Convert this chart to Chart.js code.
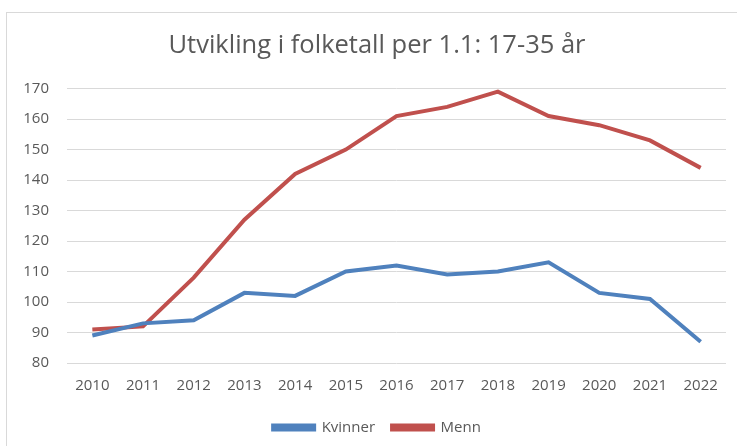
<!DOCTYPE html>
<html>
<head>
<meta charset="utf-8">
<script src="https://cdn.jsdelivr.net/npm/chart.js@4.4.1/dist/chart.umd.min.js"></script>
<style>
    html, body { margin: 0; padding: 0; background: #fff; }
    #wrap { position: relative; width: 737px; height: 446px; overflow: hidden; }
    #frame { position: absolute; left: 6px; top: 12px; width: 740px; height: 440px; border: 1px solid #d9d9d9; }
    /* diagrammet i Excel er bredere enn utsnittet, derfor et litt bredere lerret */
    #folketall { position: absolute; left: 6px; top: 0; }
</style>
</head>
<body>
<div id="wrap">
    <div id="frame"></div>
    <canvas id="folketall" width="742" height="445"></canvas>
</div>
<script>
// år (1.1.)
const years = ["2010", "2011", "2012", "2013", "2014", "2015", "2016",
               "2017", "2018", "2019", "2020", "2021", "2022"];

// folketall 17-35 år
const kvinner = [89, 93, 94, 103, 102, 110, 112, 109, 110, 113, 103, 101, 87];
const menn    = [91, 92, 108, 127, 142, 150, 161, 164, 169, 161, 158, 153, 144];

const y_min  = 80;
const y_max  = 170;
const y_step = 10;

const title_text = "Utvikling i folketall per 1.1: 17-35 år";

window.addEventListener("load", function () {
    draw_folketall_graph();
});

function draw_folketall_graph(){

    const ctx = document.getElementById("folketall").getContext("2d");
    const font_family = "'Open Sans', 'Liberation Sans', sans-serif";

    const myChart = new Chart(ctx, {
        type: "line",
        data: {
            labels: years,
            datasets: [{
                label: "Kvinner",
                data: kvinner,
                borderColor: "#4f81bd",
                backgroundColor: "#4f81bd",
                borderWidth: 4,
                pointRadius: 0,
                tension: 0
            }, {
                label: "Menn",
                data: menn,
                borderColor: "#c0504d",
                backgroundColor: "#c0504d",
                borderWidth: 4,
                pointRadius: 0,
                tension: 0
            }]
        },
        options: {
            responsive: false,
            animation: false,
            layout: {
                padding: 0
            },
            plugins: {
                title: {
                    display: true,
                    text: title_text,
                    color: "#595959",
                    font: { family: font_family, size: 25.5, weight: "normal" },
                    padding: { top: 30, bottom: 28 }
                },
                legend: {
                    position: "bottom",
                    labels: {
                        color: "#595959",
                        font: { family: font_family, size: 15 },
                        boxWidth: 41,
                        boxHeight: 4,
                        padding: 17
                    }
                },
                tooltip: { enabled: false }
            },
            scales: {
                x: {
                    offset: true,
                    grid: { display: false, drawTicks: false },
                    border: { display: false },
                    ticks: {
                        color: "#595959",
                        font: { family: font_family, size: 15 },
                        padding: 14,
                        maxRotation: 0,
                        autoSkip: false
                    },
                    afterFit: function (scale) { scale.height = 40; }
                },
                y: {
                    min: y_min,
                    max: y_max,
                    grid: { color: "#d9d9d9", lineWidth: 1, drawTicks: false },
                    border: { display: false },
                    ticks: {
                        stepSize: y_step,
                        color: "#595959",
                        font: { family: font_family, size: 15 },
                        padding: 18
                    },
                    afterFit: function (scale) { scale.width = 61; }
                },
                // tom akse til høyre, bare for å gi luft som i originalen
                y_right: {
                    position: "right",
                    grid: { display: false, drawTicks: false },
                    border: { display: false },
                    ticks: { display: false },
                    afterFit: function (scale) { scale.width = 22; }
                }
            }
        }
    });

}
</script>
</body>
</html>
